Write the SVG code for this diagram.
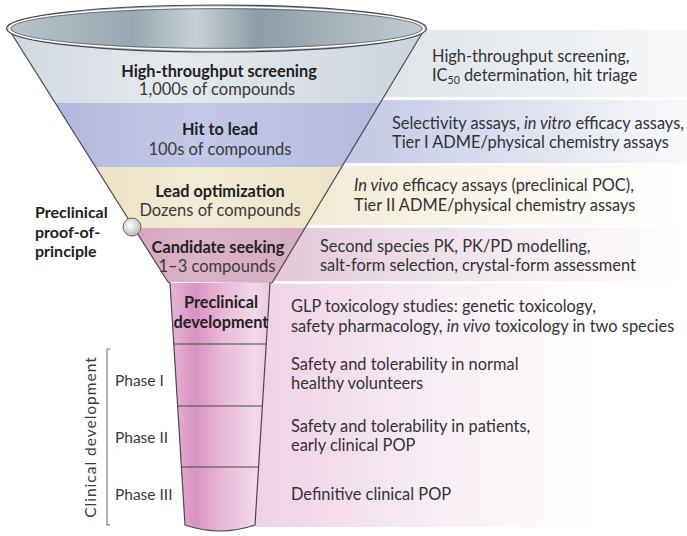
<svg xmlns="http://www.w3.org/2000/svg" width="687" height="536" viewBox="0 0 687 536">
<defs>
  <style>
    .b{font-family:Lato,"Open Sans","Liberation Sans",sans-serif;font-weight:bold;font-size:16.3px;fill:#222;text-anchor:middle}
    .r{font-family:Lato,"Open Sans","Liberation Sans",sans-serif;font-size:16.5px;fill:#3a3a3a;text-anchor:middle}
    .t{font-family:Lato,"Open Sans","Liberation Sans",sans-serif;font-size:16.4px;fill:#333}
    .l{font-family:Lato,"Open Sans","Liberation Sans",sans-serif;font-size:15.5px;fill:#3a3a3a}
    .bl{font-family:Lato,"Open Sans","Liberation Sans",sans-serif;font-weight:bold;font-size:16px;fill:#222}
    .ol{fill:none;stroke:#4a4a4a;stroke-width:1.2}
  </style>
  <linearGradient id="rHTS" x1="0" y1="0" x2="1" y2="0">
    <stop offset="0" stop-color="#d9dfe5"/><stop offset="0.7" stop-color="#eceff2"/><stop offset="1" stop-color="#f8f9fa"/>
  </linearGradient>
  <linearGradient id="rHTL" x1="0" y1="0" x2="1" y2="0">
    <stop offset="0" stop-color="#bcc2e2"/><stop offset="0.65" stop-color="#e2e5f1"/><stop offset="1" stop-color="#fafafc"/>
  </linearGradient>
  <linearGradient id="rLO" x1="0" y1="0" x2="1" y2="0">
    <stop offset="0" stop-color="#f0e6cc"/><stop offset="0.6" stop-color="#faf7ee"/><stop offset="1" stop-color="#ffffff"/>
  </linearGradient>
  <linearGradient id="rCS" x1="0" y1="0" x2="1" y2="0">
    <stop offset="0" stop-color="#dfc1d1"/><stop offset="0.6" stop-color="#f4eaf0"/><stop offset="1" stop-color="#ffffff"/>
  </linearGradient>
  <linearGradient id="rPK" x1="0" y1="0" x2="1" y2="0">
    <stop offset="0" stop-color="#eecfe3"/><stop offset="0.45" stop-color="#f8eef5"/><stop offset="0.8" stop-color="#ffffff"/>
  </linearGradient>
  <linearGradient id="fHTS" x1="0" y1="0" x2="1" y2="0">
    <stop offset="0" stop-color="#cfd7de"/><stop offset="0.4" stop-color="#e6eaee"/><stop offset="1" stop-color="#cbd3da"/>
  </linearGradient>
  <linearGradient id="fHTL" x1="0" y1="0" x2="1" y2="0">
    <stop offset="0" stop-color="#a9b1da"/><stop offset="0.45" stop-color="#c2c8e6"/><stop offset="1" stop-color="#afb6dd"/>
  </linearGradient>
  <linearGradient id="fLO" x1="0" y1="0" x2="1" y2="0">
    <stop offset="0" stop-color="#e6d8b3"/><stop offset="0.45" stop-color="#f3ebd5"/><stop offset="1" stop-color="#ebdfc0"/>
  </linearGradient>
  <linearGradient id="fCS" x1="0" y1="0" x2="1" y2="0">
    <stop offset="0" stop-color="#c98fab"/><stop offset="0.45" stop-color="#dab2c5"/><stop offset="1" stop-color="#d4a6bc"/>
  </linearGradient>
  <linearGradient id="fNK" x1="0" y1="0" x2="1" y2="0">
    <stop offset="0" stop-color="#e8b6d6"/><stop offset="0.25" stop-color="#d993c1"/><stop offset="0.55" stop-color="#e8bbd9"/><stop offset="0.85" stop-color="#f3d9ea"/><stop offset="1" stop-color="#ebc6df"/>
  </linearGradient>
  <linearGradient id="rim" x1="0" y1="0" x2="1" y2="0">
    <stop offset="0" stop-color="#b9c4ca"/><stop offset="0.3" stop-color="#98a8b1"/><stop offset="0.45" stop-color="#c6cfd4"/><stop offset="0.6" stop-color="#8d9da7"/><stop offset="0.8" stop-color="#a9b5bc"/><stop offset="1" stop-color="#c2cbd0"/>
  </linearGradient>
  <radialGradient id="dot" cx="0.4" cy="0.4" r="0.6">
    <stop offset="0" stop-color="#ffffff"/><stop offset="1" stop-color="#b8bcc0"/>
  </radialGradient>
  <clipPath id="cone">
    <polygon points="8,28 424,30 272,283 168,282"/>
  </clipPath>
</defs>

<rect width="687" height="536" fill="#ffffff"/>

<!-- right-hand bands -->
<g id="bands">
  <rect x="300" y="30" width="387" height="67" fill="url(#rHTS)"/>
  <rect x="300" y="100" width="387" height="63" fill="url(#rHTL)"/>
  <rect x="250" y="166" width="437" height="59" fill="url(#rLO)"/>
  <rect x="230" y="228" width="457" height="53" fill="url(#rCS)"/>
  <rect x="240" y="284" width="447" height="243" fill="url(#rPK)"/>
</g>

<!-- funnel cone -->
<g id="cone-fill" clip-path="url(#cone)">
  <rect x="0" y="20" width="430" height="83" fill="url(#fHTS)"/>
  <rect x="0" y="103" width="430" height="64" fill="url(#fHTL)"/>
  <rect x="0" y="167" width="430" height="61" fill="url(#fLO)"/>
  <rect x="0" y="228" width="430" height="56" fill="url(#fCS)"/>
</g>

<g id="neck">
  <path d="M170,283 L270,283 L255,525 Q220,537 185,525 Z" fill="url(#fNK)"/>
  <path class="ol" d="M168,282 L170,283 L185,525 Q220,537 255,525 L270,283 L272,283"/>
  <line class="ol" x1="173.8" y1="344" x2="266.2" y2="344"/>
  <line class="ol" x1="177.6" y1="406" x2="262.3" y2="406"/>
  <line class="ol" x1="181.4" y1="467" x2="258.6" y2="467"/>
</g>

<g id="cone-outline">
  <line class="ol" x1="8" y1="28" x2="168" y2="282"/>
  <line class="ol" x1="424" y1="30" x2="272" y2="283"/>
</g>

<g id="rim-ellipse">
  <ellipse cx="216.5" cy="28.5" rx="210" ry="23.5" fill="url(#rim)" stroke="#4a4a4a" stroke-width="1.2"/>
  <ellipse cx="216.5" cy="28.5" rx="207.5" ry="21.3" fill="none" stroke="#ffffff" stroke-width="1.6"/>
  <ellipse cx="216.5" cy="28.5" rx="205.5" ry="19.8" fill="none" stroke="#5a6268" stroke-width="0.8"/>
</g>

<g id="hts">
  <text class="b" x="219" y="77">High-throughput screening</text>
  <text class="r" x="217" y="95">1,000s of compounds</text>
  <text class="t" x="432" y="62">High-throughput screening,</text>
  <text class="t" x="432" y="81">IC<tspan font-size="10.5" dy="3">50</tspan><tspan dy="-3"> determination, hit triage</tspan></text>
</g>

<g id="hit-to-lead">
  <text class="b" x="220" y="135">Hit to lead</text>
  <text class="r" x="220" y="155">100s of compounds</text>
  <text class="t" x="392" y="129">Selectivity assays, <tspan font-style="italic">in vitro</tspan> efficacy assays,</text>
  <text class="t" x="392" y="148">Tier I ADME/physical chemistry assays</text>
</g>

<g id="lead-optimization">
  <text class="b" x="220" y="197">Lead optimization</text>
  <text class="r" x="220" y="216">Dozens of compounds</text>
  <text class="t" x="354" y="191"><tspan font-style="italic">In vivo</tspan> efficacy assays (preclinical POC),</text>
  <text class="t" x="354" y="211">Tier II ADME/physical chemistry assays</text>
</g>

<g id="candidate-seeking">
  <text class="b" x="218" y="253">Candidate seeking</text>
  <text class="r" x="217" y="272">1–3 compounds</text>
  <text class="t" x="320" y="252">Second species PK, PK/PD modelling,</text>
  <text class="t" x="320" y="271">salt-form selection, crystal-form assessment</text>
</g>

<g id="preclinical-development">
  <text class="b" x="221" y="308">Preclinical</text>
  <text class="b" x="221" y="328">development</text>
  <text class="t" x="291" y="312">GLP toxicology studies: genetic toxicology,</text>
  <text class="t" x="291" y="332">safety pharmacology, <tspan font-style="italic">in vivo</tspan> toxicology in two species</text>
</g>

<g id="phase-1">
  <text class="l" x="115" y="386">Phase I</text>
  <text class="t" x="291" y="370">Safety and tolerability in normal</text>
  <text class="t" x="291" y="389">healthy volunteers</text>
</g>

<g id="phase-2">
  <text class="l" x="115" y="443">Phase II</text>
  <text class="t" x="291" y="432">Safety and tolerability in patients,</text>
  <text class="t" x="291" y="451">early clinical POP</text>
</g>

<g id="phase-3">
  <text class="l" x="115" y="500">Phase III</text>
  <text class="t" x="291" y="500">Definitive clinical POP</text>
</g>

<g id="preclinical-pop">
  <text class="bl" x="35" y="218">Preclinical</text>
  <text class="bl" x="35" y="238">proof-of-</text>
  <text class="bl" x="35" y="257">principle</text>
  <circle cx="132" cy="227" r="9" fill="url(#dot)" stroke="#666" stroke-width="1"/>
</g>

<g id="clinical-development">
  <path d="M110,349 L107,349 L107,525 L110,525" fill="none" stroke="#666" stroke-width="1"/>
  <text class="l" transform="translate(96,437) rotate(-90)" text-anchor="middle" font-size="20" letter-spacing="1" fill="#4a4a4a">Clinical development</text>
</g>
</svg>
